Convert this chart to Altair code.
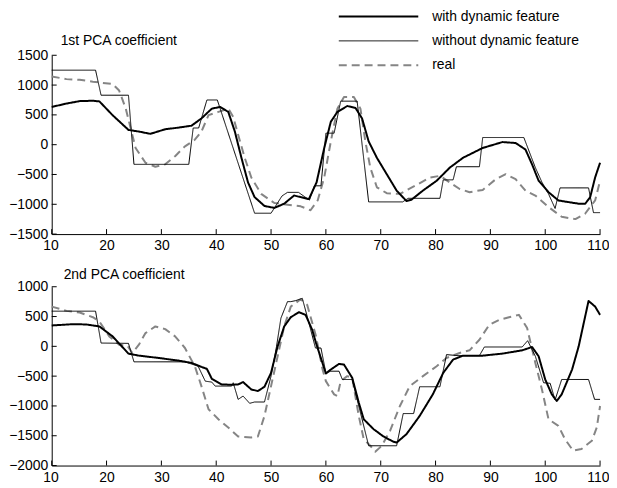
import altair as alt
import pandas as pd

SERIES = ["with dynamic feature", "without dynamic feature", "real"]
COLORS = ["#000000", "#000000", "#858585"]
DASHES = [[1, 0], [1, 0], [8, 5]]
X_TICKS = [10, 20, 30, 40, 50, 60, 70, 80, 90, 100, 110]
TOP_Y_TICKS = [-1500, -1000, -500, 0, 500, 1000, 1500]
BOT_Y_TICKS = [-2000, -1500, -1000, -500, 0, 500, 1000]
TITLES = ["1st PCA coefficient", "2nd PCA coefficient"]

# ---------------- 1st PCA coefficient ----------------
top_with_x = [10, 12.7, 15.1, 17.5, 18.7, 21.1, 24, 25.9, 28, 30.7, 33.1, 35.5, 37.3, 39.2,
              40.7, 42.2, 43.4, 44.6, 45.8, 47, 48.8, 50.6, 52.4, 54.2, 55.4, 56.9, 58.3,
              59.7, 60.9, 62.1, 63.9, 65.4, 66.6, 67.8, 69.3, 71.1, 72.9, 74.7, 75.6, 77.7,
              80.2, 82.6, 85, 88.6, 92.2, 94.6, 96.4, 97.6, 98.8, 100.6, 102.4, 104.2, 106.1,
              107.3, 108.2, 109.1, 110]
top_with_v = [633, 690, 731, 737, 726, 495, 248, 220, 182, 259, 286, 319, 440, 605,
              633, 550, 220, -220, -633, -880, -1028, -1061, -990, -853, -880, -913, -633,
              -55, 385, 550, 649, 616, 440, 55, -220, -495, -770, -946, -924, -770,
              -605, -385, -220, -55, 44, 28, -82, -330, -605, -797, -935, -963, -990,
              -990, -880, -550, -303]

top_without_x = [10, 18, 19, 24, 25, 35, 35.8, 36.8, 38.3, 40.2, 47, 50, 52, 53, 55, 57, 57.9,
                 59.1, 60, 61.5, 62.7, 65.7, 67.8, 74, 75, 80.8, 81.4, 83.2, 83.8, 88, 88.6,
                 96.1, 98.2, 99.4, 100.6, 101.8, 102.7, 107.9, 108.8, 110]
top_without_v = [1250, 1250, 830, 830, -330, -330, 280, 280, 750, 750, -1150, -1150, -860,
                 -800, -800, -930, -690, -690, 193, 193, 730, 730, -960, -960, -900, -900,
                 -590, -590, -370, -370, 120, 120, -385, -630, -825, -1070, -725, -725,
                 -1140, -1140]

top_real_x = [10, 12.7, 15.1, 17.5, 21.1, 22.3, 23.5, 24.4, 25.3, 27.1, 28.9, 30.7, 32.5,
              34.3, 36.1, 37.3, 38.6, 40.4, 42.2, 43.1, 44, 45.2, 46.4, 48.2, 50.6, 53, 55.4,
              57.2, 58.5, 59.7, 60.9, 62.1, 63.3, 65.1, 66.3, 67.2, 68.1, 69.3, 71.1, 73.5,
              76.5, 79, 80.8, 82.6, 84.4, 86.2, 88.6, 91, 92.8, 94.6, 96.4, 98.2, 100.6, 103,
              105.5, 107.3, 109.1, 110]
top_real_v = [1144, 1100, 1089, 1056, 1018, 908, 605, 275, -55, -303, -370, -330, -193,
              -28, 83, 220, 495, 550, 605, 467, 165, -220, -550, -825, -979, -1006, -1034,
              -1100, -935, -550, 55, 605, 798, 798, 605, 55, -385, -715, -814, -825,
              -677, -550, -523, -633, -743, -797, -759, -578, -495, -578, -770, -853, -1045,
              -1210, -1249, -1155, -935, -605]

# ---------------- 2nd PCA coefficient ----------------
bot_with_x = [10, 13.9, 16.3, 18.7, 21.1, 24, 25.9, 29.5, 33.1, 35.5, 37.3, 38.3, 39.2, 41,
              42.8, 44, 44.9, 46.4, 47.6, 48.8, 50, 51.2, 52.4, 53.6, 55.1, 56.3, 57.5, 58.2,
              60, 60.9, 62.4, 63.3, 64.8, 66, 66.9, 68.7, 70.5, 72.3, 72.9, 74.7, 77.1, 79.5,
              81.4, 83.2, 85, 88.6, 92.2, 95.8, 97.6, 98.8, 100, 101.2, 102.1, 103, 104.9,
              106.1, 107.9, 109.1, 110]
bot_with_v = [350, 372, 367, 334, 167, -122, -156, -195, -239, -278, -345, -378, -545, -639,
              -645, -639, -600, -723, -750, -678, -445, 0, 334, 489, 573, 528, 278, 56,
              -456, -389, -295, -306, -528, -945, -1223, -1390, -1512, -1600, -1615, -1473,
              -1168, -806, -445, -222, -156, -156, -122, -67, -11, -167, -556, -806, -917,
              -806, -389, 0, 762, 667, 528]

bot_without_x = [10, 18, 19, 24, 25, 34.3, 36.7, 38, 39.2, 39.8, 42.8, 43.1, 44, 44.9, 46.1,
                 47, 48.8, 50, 51, 51.8, 53, 53.6, 54.5, 55.7, 56.6, 58.1, 59.1, 60, 60.9,
                 62.4, 63, 64.8, 67.8, 72.9, 74.1, 76, 77.1, 80.8, 82, 84.1, 88, 88.9, 95.8,
                 96.8, 98.2, 99.7, 100.9, 101.8, 103, 107.9, 109, 110]
bot_without_v = [590, 590, 55, 50, -260, -260, -333, -584, -600, -667, -667, -611, -890,
                 -834, -956, -934, -934, -500, 0, 473, 750, 750, 767, 806, 500, -28, -28,
                 -445, -417, -417, -556, -556, -1668, -1668, -1128, -1128, -678, -678, -139,
                 -156, -156, -11, -11, 95, -167, -611, -620, -900, -556, -556, -890, -890]

bot_real_x = [10, 12.7, 15.1, 17.5, 18.7, 20.5, 22.3, 23.8, 24.7, 25.9, 27.1, 28.9, 30.7,
              32.5, 34.3, 36.1, 37.3, 38.6, 40.4, 42.2, 44, 46.4, 47.6, 48.8, 50, 51.2, 52.4,
              53.6, 55.4, 56.6, 58.2, 59.4, 60, 61.5, 62.1, 62.7, 63.9, 64.8, 66, 66.9, 68.1,
              69, 70.2, 71.7, 73.5, 75.3, 77.7, 80.2, 82, 84.4, 86.2, 88, 89.8, 91.6, 93.4,
              95.2, 96.7, 98.2, 99.4, 100.6, 102.4, 103.6, 105.1, 106.6, 108.5, 109.4, 110]
bot_real_v = [667, 595, 567, 489, 417, 167, 28, 11, -111, 28, 222, 334, 289,
              167, -28, -334, -667, -1056, -1223, -1362, -1512, -1529, -1512, -1168, -667,
              -167, 334, 667, 790, 695, 167, -389, -584, -806, -834, -584, -500, -528, -1168,
              -1557, -1668, -1768, -1668, -1418, -1001, -667, -500, -334, -195, -111, -67,
              111, 361, 445, 489, 528, 306, -278, -723, -1223, -1334, -1557, -1751, -1724,
              -1585, -1362, -1001]

W = 552
H = 180
FONT = "Liberation Sans"
MINUS_EXPR = "replace(datum.label, '-', '\u2212')"


def frame(xs, vs, name):
    return pd.DataFrame({"x": xs, "v": vs, "series": name})


def panel(parts, yticks, title, show_legend, title_dx, title_dy):
    df = pd.concat([frame(*p) for p in parts], ignore_index=True)
    x_enc = alt.X("x:Q", scale=alt.Scale(domain=[X_TICKS[0], X_TICKS[-1]], nice=False, zero=False),
                  axis=alt.Axis(values=X_TICKS, title=None, ticks=False, tickSize=0, grid=False,
                                labelPadding=5, labelFlush=True, labelFlushOffset=9,
                                labelBaseline="top", format="d", labelFont=FONT,
                                labelFontSize=14, labelColor="black", domainColor="black"))
    y_enc = alt.Y("v:Q", scale=alt.Scale(domain=[yticks[0], yticks[-1]], nice=False, zero=False),
                  axis=alt.Axis(values=yticks, title=None, ticks=False, tickSize=0, grid=False,
                                labelPadding=4, format="d", labelExpr=MINUS_EXPR, labelFont=FONT,
                                labelFontSize=14, labelColor="black", domainColor="black"))
    if show_legend:
        legend = alt.Legend(
            title=None, orient="none", legendX=322, legendY=-46,
            symbolType="M-8,0H8", symbolSize=100,
            symbolStrokeWidth=alt.ExprRef("datum.value === 'without dynamic feature' ? 1 : 2"),
            labelFont=FONT, labelFontSize=14, labelColor="black", labelLimit=400,
            labelOffset=47, rowPadding=10.5, padding=0,
        )
    else:
        legend = None
    base = alt.Chart(df).encode(
        x=x_enc, y=y_enc,
        color=alt.Color("series:N", scale=alt.Scale(domain=SERIES, range=COLORS), legend=legend),
        strokeDash=alt.StrokeDash("series:N", scale=alt.Scale(domain=SERIES, range=DASHES), legend=legend),
        strokeWidth=alt.condition("datum.series === 'without dynamic feature'", alt.value(1), alt.value(2)),
    )
    layers = []
    for s in ["real", "without dynamic feature", "with dynamic feature"]:
        layers.append(base.transform_filter(alt.datum.series == s).mark_line(strokeCap="butt", strokeJoin="round"))
    xt = alt.Chart(pd.DataFrame({"x": X_TICKS})).mark_rule(color="black", strokeWidth=1).encode(
        x=x_enc, y=alt.value(H), y2=alt.value(H - 5))
    yt = alt.Chart(pd.DataFrame({"v": yticks})).mark_rule(color="black", strokeWidth=1).encode(
        y=y_enc, x=alt.value(0), x2=alt.value(5))
    ttl = alt.Chart(pd.DataFrame({"t": [title]})).mark_text(
        align="left", baseline="middle", fontSize=14, font=FONT, color="black"
    ).encode(text="t:N", x=alt.value(title_dx), y=alt.value(title_dy))
    return alt.layer(*layers, xt, yt, ttl).properties(width=W, height=H)


top = panel([(top_with_x, top_with_v, SERIES[0]),
             (top_without_x, top_without_v, SERIES[1]),
             (top_real_x, top_real_v, SERIES[2])], TOP_Y_TICKS, TITLES[0], True, 9, -14)
bottom = panel([(bot_with_x, bot_with_v, SERIES[0]),
                (bot_without_x, bot_without_v, SERIES[1]),
                (bot_real_x, bot_real_v, SERIES[2])], BOT_Y_TICKS, TITLES[1], False, 12, -12)

chart = alt.vconcat(top, bottom, spacing=53, bounds="flush").resolve_scale(
    color="independent", strokeDash="independent"
).resolve_legend(color="independent", strokeDash="independent").properties(
    padding=0
).configure(font=FONT).configure_view(stroke=None).configure_axis(
    domainColor="black", domainWidth=1, labelColor="black", labelFont=FONT,
    labelFontSize=14, grid=False
)

chart.save("out.html", embed_options={"renderer": "svg", "actions": False})
